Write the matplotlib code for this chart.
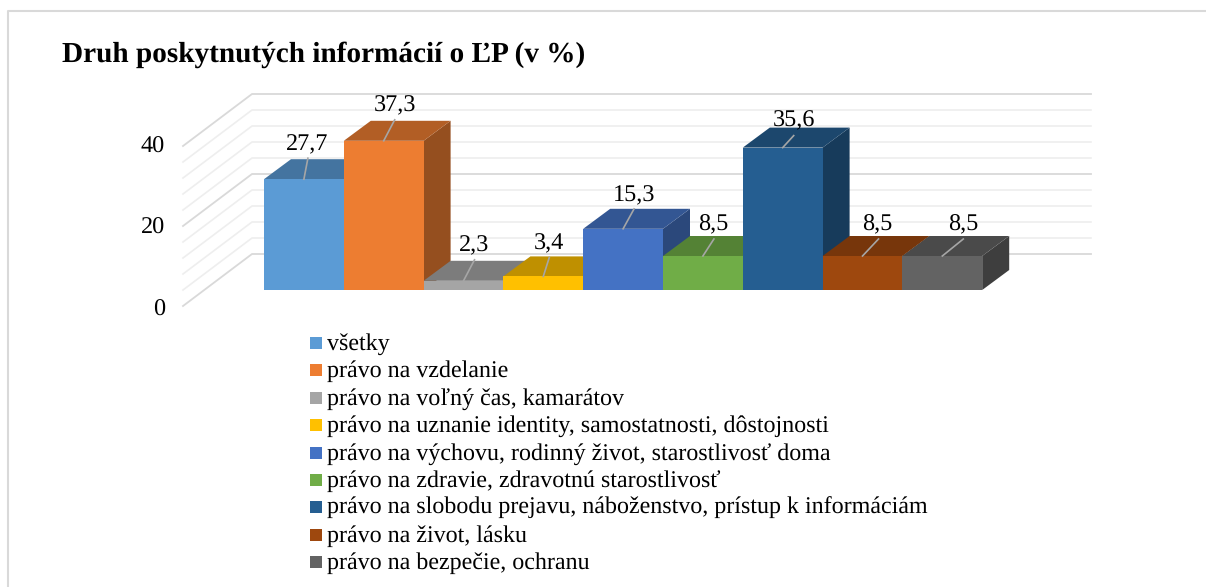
#!/usr/bin/env python3
import matplotlib
matplotlib.use("Agg")
import matplotlib.pyplot as plt
from matplotlib.colors import to_rgb
from matplotlib.patches import Polygon, Rectangle

categories = [
    "všetky",
    "právo na vzdelanie",
    "právo na voľný čas, kamarátov",
    "právo na uznanie identity, samostatnosti, dôstojnosti",
    "právo na výchovu, rodinný život, starostlivosť doma",
    "právo na zdravie, zdravotnú starostlivosť",
    "právo na slobodu prejavu, náboženstvo, prístup k informáciám",
    "právo na život, lásku",
    "právo na bezpečie, ochranu",
]
values = [27.7, 37.3, 2.3, 3.4, 15.3, 8.5, 35.6, 8.5, 8.5]
value_labels = ["27,7", "37,3", "2,3", "3,4", "15,3", "8,5", "35,6", "8,5", "8,5"]
colors = ["#5B9BD5", "#ED7D31", "#A5A5A5", "#FFC000", "#4472C4",
          "#70AD47", "#255E91", "#9E480E", "#636363"]
y_ticks = [0, 20, 40]
title = "Druh poskytnutých informácií o ĽP (v %)"

# Pixel layout of the picture
W, H = 1206, 587
BAR_PX = 79.8
UNIT_PX = 4.0
X0_PX, Y0_PX = 264, 290
DEPTH_X = 27 / BAR_PX
DEPTH_Y = 20 / UNIT_PX

# Label centre and leader end, as pixel offsets from the bar's front top centre
label_offsets = [(3, -35), (11, -35), (11, -35), (6, -33), (11, -33), (10, -31), (11, -27), (15, -31), (21, -31)]
leader_offsets = [(4, -21), (11, -21), (11, -21), (6, -19), (11, -20), (11, -17), (11, -12), (16, -17), (21, -17)]

plt.rcParams["font.family"] = ["Liberation Serif", "DejaVu Serif"]
plt.rcParams["text.hinting"] = "no_hinting"


def shade(color, factor):
    return tuple(c * factor for c in to_rgb(color))


def px_x(px):
    return (px - X0_PX) / BAR_PX


def px_y(px):
    return (Y0_PX - px) / UNIT_PX


fig = plt.figure(figsize=(W / 100, H / 100), dpi=100)
ax = fig.add_axes([0, 0, 1, 1])
ax.set_xlim(px_x(0), px_x(W))
ax.set_ylim(px_y(H), px_y(0))
ax.axis("off")

# Outer frame, open on the right and at the bottom
ax.plot([px_x(8), px_x(8), px_x(W)], [px_y(H), px_y(11), px_y(11)],
        color="#D9D9D9", lw=1.5, zorder=1)

# Back wall and side wall gridlines
wall_x = px_x(252)
wall_right = px_x(1091)
side_x = px_x(183)
for v in range(0, 41, 4):
    major = v % 20 == 0
    c = "#D9D9D9" if major else "#EEEEEE"
    lw = 1.3 if major else 1.2
    y = px_y(254) + v
    ax.plot([side_x, wall_x, wall_right], [y - 13, y, y], color=c, lw=lw, zorder=2)

for t in y_ticks:
    ax.text(px_x(165), px_y(310) + t * 1.02, str(t), ha="right", va="center", fontsize=17.5, color="#000000", zorder=6)

# Bars are drawn left to right so the next bar hides the side of the previous one
for i, (v, col) in enumerate(zip(values, colors)):
    ax.add_patch(Polygon([(i + 1, 0), (i + 1 + DEPTH_X, DEPTH_Y), (i + 1 + DEPTH_X, v + DEPTH_Y), (i + 1, v)],
                         closed=True, facecolor=shade(col, 0.63), edgecolor="none", zorder=3))
    ax.add_patch(Polygon([(i, v), (i + 1, v), (i + 1 + DEPTH_X, v + DEPTH_Y), (i + DEPTH_X, v + DEPTH_Y)],
                         closed=True, facecolor=shade(col, 0.75), edgecolor="none", zorder=3))
    ax.bar(i + 0.5, v, width=1.0, color=col, linewidth=0, zorder=3)

for i, v in enumerate(values):
    cx = i + 0.5
    lx, ly = leader_offsets[i]
    ax.plot([cx, cx + lx / BAR_PX], [v, v - ly / UNIT_PX], color="#A6A6A6", lw=1.2, zorder=5)
    tx, ty = label_offsets[i]
    ax.text(cx + tx / BAR_PX, v - ty / UNIT_PX, value_labels[i], ha="center", va="center",
            fontsize=17.5, color="#000000", zorder=6)

ax.text(px_x(62), px_y(55), title, ha="left", va="center", fontsize=21.1, fontweight="bold", color="#000000")

# Legend
for i, (name, col) in enumerate(zip(categories, colors)):
    py = 343 + i * 27.4
    ax.add_patch(Rectangle((px_x(310), px_y(py + 6)), 12 / BAR_PX, 12 / UNIT_PX, facecolor=col, edgecolor="none"))
    ax.text(px_x(327), px_y(py + 1), name, ha="left", va="center", fontsize=17.3, color="#000000")

fig.savefig("out.png", dpi=100)
